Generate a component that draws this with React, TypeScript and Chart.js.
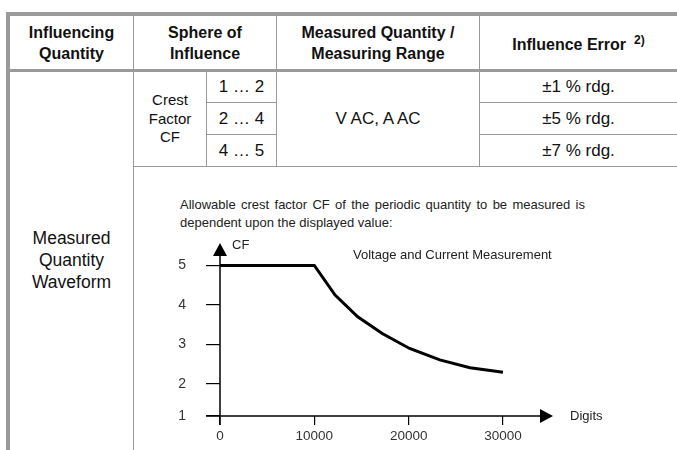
import React, { useEffect, useRef } from "react";
import { Chart, registerables } from "chart.js";

Chart.register(...registerables);

// ---------- data ----------
const digits = [0, 10000, 12200, 14600, 17200, 20100, 23300, 26500, 30000];
const crestFactor = [5, 5, 4.25, 3.7, 3.28, 2.9, 2.61, 2.41, 2.3];
const xTickValues = [0, 10000, 20000, 30000];
const yTickValues = [1.19, 2, 3, 4, 5]; // lowest tick is drawn on the x axis
const yTickLabels = ["1", "2", "3", "4", "5"];
const X_MIN = 0;
const X_MAX = 35300;
const Y_MIN = 1.19;
const Y_MAX = 5.57;

const sphereRanges = ["1 … 2", "2 … 4", "4 … 5"];
const influenceErrors = ["±1 % rdg.", "±5 % rdg.", "±7 % rdg."];

const FONT = '"Liberation Sans", Arial, Helvetica, sans-serif';
const LINE = "#9a9a9a";

const axisArrows = {
  id: "axisArrows",
  afterDatasetsDraw(chart: any) {
    const { ctx, chartArea, scales } = chart;
    const x0 = scales.x.getPixelForValue(X_MIN);
    const y0 = scales.y.getPixelForValue(Y_MIN);
    const ah = 13;
    const aw = 7;
    ctx.save();
    ctx.strokeStyle = "#000";
    ctx.fillStyle = "#000";
    ctx.lineWidth = 1.5;
    ctx.beginPath();
    ctx.moveTo(chartArea.left - 14, y0);
    ctx.lineTo(chartArea.right - ah, y0);
    ctx.moveTo(x0, y0 + 9);
    ctx.lineTo(x0, chartArea.top + ah);
    ctx.stroke();
    ctx.beginPath();
    ctx.moveTo(chartArea.right, y0);
    ctx.lineTo(chartArea.right - ah, y0 - aw);
    ctx.lineTo(chartArea.right - ah, y0 + aw);
    ctx.closePath();
    ctx.fill();
    ctx.beginPath();
    ctx.moveTo(x0, chartArea.top);
    ctx.lineTo(x0 - aw, chartArea.top + ah);
    ctx.lineTo(x0 + aw, chartArea.top + ah);
    ctx.closePath();
    ctx.fill();
    ctx.restore();
  },
};

function CrestChart() {
  const ref = useRef<HTMLCanvasElement | null>(null);
  useEffect(() => {
    if (!ref.current) return;
    const chart = new Chart(ref.current, {
      type: "line",
      data: {
        datasets: [
          {
            data: digits.map((x, i) => ({ x, y: crestFactor[i] })),
            borderColor: "#000",
            borderWidth: 3,
            pointRadius: 0,
            tension: 0,
            fill: false,
          },
        ],
      },
      options: {
        animation: false,
        responsive: false,
        devicePixelRatio: 1,
        layout: { autoPadding: false, padding: { left: 20, right: 124, top: 15, bottom: 4 } },
        plugins: { legend: { display: false }, tooltip: { enabled: false }, title: { display: false } },
        scales: {
          x: {
            type: "linear",
            min: X_MIN,
            max: X_MAX,
            afterBuildTicks: (s: any) => {
              s.ticks = xTickValues.map((v) => ({ value: v }));
            },
            afterFit: (s: any) => {
              s.height = 30;
            },
            grid: {
              drawOnChartArea: false,
              drawTicks: true,
              tickLength: 9,
              color: "#000",
              lineWidth: 1.2,
            },
            border: { display: false },
            ticks: {
              autoSkip: false,
              maxRotation: 0,
              padding: 3,
              color: "#333",
              font: { family: FONT, size: 13.5 },
              callback: (v: any) => String(v),
            },
          },
          y: {
            type: "linear",
            min: Y_MIN,
            max: Y_MAX,
            afterBuildTicks: (s: any) => {
              s.ticks = yTickValues.map((v) => ({ value: v }));
            },
            afterFit: (s: any) => {
              s.width = 60;
              s.paddingTop = 0;
              s.paddingBottom = 0;
            },
            grid: {
              drawOnChartArea: false,
              drawTicks: true,
              tickLength: 14,
              color: "#000",
              lineWidth: 1.2,
            },
            border: { display: false },
            ticks: {
              autoSkip: false,
              padding: 20,
              color: "#333",
              font: { family: FONT, size: 14 },
              callback: (_v: any, i: number) => yTickLabels[i],
            },
          },
        },
      },
      plugins: [axisArrows],
    } as any);
    return () => chart.destroy();
  }, []);
  return <canvas ref={ref} width={537} height={222} style={{ display: "block" }} />;
}

const abs = (left: number, top: number, width: number, height: number, extra: any = {}) => ({
  position: "absolute" as const,
  left,
  top,
  width,
  height,
  ...extra,
});

function Box(props: { l: number; t: number; w: number; h: number; bg?: string }) {
  return <div style={abs(props.l, props.t, props.w, props.h, { background: props.bg || LINE })} />;
}

function Cell(props: { l: number; t: number; w: number; h: number; style?: any; children: any }) {
  return (
    <div
      style={abs(props.l, props.t, props.w, props.h, {
        display: "flex",
        alignItems: "center",
        justifyContent: "center",
        textAlign: "center",
        ...props.style,
      })}
    >
      <div>{props.children}</div>
    </div>
  );
}

export default function App() {
  const head = { fontWeight: "bold", fontSize: 16, lineHeight: "21px", color: "#111" };
  const body = { fontSize: 17, lineHeight: "20px", color: "#111" };
  return (
    <div
      style={{
        position: "absolute",
        left: 0,
        top: 0,
        width: 677,
        height: 450,
        background: "#fff",
        fontFamily: FONT,
        overflow: "hidden",
      }}
    >
      {/* borders */}
      <Box l={6} t={12} w={671} h={4} />
      <Box l={6} t={12} w={4} h={438} />
      <Box l={10} t={69} w={667} h={3} />
      <Box l={133} t={16} w={1} h={434} />
      <Box l={276} t={16} w={1} h={150} />
      <Box l={479} t={16} w={1} h={150} />
      <Box l={206} t={72} w={1} h={94} />
      <Box l={206} t={102} w={70} h={1} />
      <Box l={206} t={134} w={70} h={1} />
      <Box l={480} t={102} w={197} h={1} />
      <Box l={480} t={134} w={197} h={1} />
      <Box l={134} t={166} w={543} h={1} />

      {/* header */}
      <Cell l={10} t={16} w={123} h={53} style={head}>
        Influencing
        <br />
        Quantity
      </Cell>
      <Cell l={134} t={16} w={142} h={53} style={head}>
        Sphere of
        <br />
        Influence
      </Cell>
      <Cell l={277} t={16} w={202} h={53} style={head}>
        Measured Quantity /
        <br />
        Measuring Range
      </Cell>
      <Cell l={480} t={16} w={197} h={53} style={head}>
        Influence Error
        <sup style={{ fontSize: 12, marginLeft: 8, verticalAlign: "6px" }}>2)</sup>
      </Cell>

      {/* rows */}
      <Cell l={134} t={72} w={72} h={94} style={{ fontSize: 15, lineHeight: "18.5px", color: "#111" }}>
        Crest
        <br />
        Factor
        <br />
        CF
      </Cell>
      {sphereRanges.map((r, i) => (
        <Cell key={r} l={207} t={[72, 103, 135][i]} w={69} h={[30, 31, 31][i]} style={body}>
          {r}
        </Cell>
      ))}
      <Cell l={277} t={72} w={202} h={94} style={body}>
        V AC, A AC
      </Cell>
      {influenceErrors.map((r, i) => (
        <Cell key={r} l={480} t={[72, 103, 135][i]} w={197} h={[30, 31, 31][i]} style={body}>
          {r}
        </Cell>
      ))}
      <div
        style={abs(10, 227, 123, 70, {
          textAlign: "center",
          fontSize: 17.5,
          lineHeight: "22px",
          color: "#111",
        })}
      >
        Measured
        <br />
        Quantity
        <br />
        Waveform
      </div>

      {/* chart cell */}
      <div
        style={abs(180, 196, 405, 40, {
          fontSize: 13,
          lineHeight: "18px",
          textAlign: "justify",
          color: "#222",
        })}
      >
        Allowable crest factor CF of the periodic quantity to be measured is dependent upon the displayed value:
      </div>
      <div style={abs(140, 228, 537, 222)}>
        <CrestChart />
      </div>
      <div style={abs(232, 237, 40, 16, { fontSize: 13, lineHeight: "16px", color: "#222" })}>CF</div>
      <div style={abs(353, 247, 250, 16, { fontSize: 13, lineHeight: "16px", color: "#222" })}>
        Voltage and Current Measurement
      </div>
      <div style={abs(570, 408, 60, 16, { fontSize: 13, lineHeight: "16px", color: "#222" })}>Digits</div>
    </div>
  );
}
